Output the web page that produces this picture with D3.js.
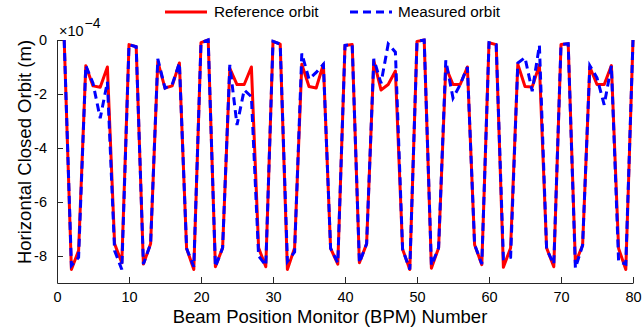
<!DOCTYPE html>
<html>
<head>
<meta charset="utf-8">
<script src="https://cdn.jsdelivr.net/npm/d3@7"></script>
<style>
  body { margin: 0; background: #fff; }
  text { font-family: "Liberation Sans", Arial, Helvetica, sans-serif; fill: #000; }
</style>
</head>
<body>
<svg id="orbit" width="642" height="335"></svg>
<script>
// BPM index and orbit values (units of 1e-4 m)
var bpm = [1, 2, 3, 4, 5, 6, 7, 8, 9, 10, 11, 12, 13, 14, 15, 16, 17, 18, 19, 20,
    21, 22, 23, 24, 25, 26, 27, 28, 29, 30, 31, 32, 33, 34, 35, 36, 37, 38, 39, 40,
    41, 42, 43, 44, 45, 46, 47, 48, 49, 50, 51, 52, 53, 54, 55, 56, 57, 58, 59, 60,
    61, 62, 63, 64, 65, 66, 67, 68, 69, 70, 71, 72, 73, 74, 75, 76, 77, 78, 79, 80];

var referenceOrbit = [0, -8.5, -7.8, -0.95, -1.7, -1.75, -1.0, -7.55, -8.25, -0.17,
    -0.25, -8.3, -7.55, -0.8, -1.78, -1.7, -0.85, -7.72, -8.5, -0.1,
    0, -8.4, -7.7, -1.05, -1.65, -1.65, -1.0, -7.7, -8.4, -0.05,
    -0.15, -8.5, -7.7, -0.9, -1.72, -1.78, -0.9, -7.72, -8.3, -0.2,
    -0.17, -8.25, -7.55, -0.76, -1.85, -1.65, -1.15, -7.75, -8.5, -0.05,
    0, -8.45, -7.7, -1.0, -1.65, -1.65, -1.0, -7.58, -8.32, -0.1,
    -0.17, -8.42, -7.7, -0.9, -1.72, -1.74, -0.92, -7.7, -8.4, -0.17,
    -0.14, -8.26, -7.6, -1.0, -1.65, -1.65, -0.95, -7.72, -8.5, 0];

var measuredOrbit = [0, -8.35, -8.05, -0.95, -1.6, -2.9, -1.55, -7.8, -8.5, -0.17,
    -0.25, -8.3, -7.55, -0.7, -1.78, -1.65, -0.85, -7.72, -8.4, -0.1,
    0, -8.4, -7.7, -0.92, -3.15, -1.85, -2.1, -8.0, -8.35, -0.05,
    -0.15, -8.2, -7.85, -0.5, -1.45, -1.2, -0.9, -7.72, -8.25, -0.2,
    -0.17, -8.25, -7.55, -0.7, -1.6, -0.15, -0.45, -7.75, -8.5, -0.05,
    0, -8.35, -7.7, -0.75, -2.15, -1.65, -1.0, -7.58, -8.3, -0.1,
    -0.17, -8.1, -8.05, -0.85, -0.65, -1.9, -0.2, -7.75, -8.3, -0.17,
    -0.14, -8.45, -7.6, -0.95, -1.4, -2.4, -0.95, -8.2, -8.3, 0];

var xTicks = [0, 10, 20, 30, 40, 50, 60, 70, 80];
var yTicks = [0, -2, -4, -6, -8];

(function drawOrbit() {
    var svg = d3.select("#orbit");

    var x = d3.scaleLinear().domain([0, 80]).range([57, 633]),
        y = d3.scaleLinear().domain([-9, 0]).range([283, 40]);

    var axisColor = "#262626";

    // bottom axis, ticks pointing inward
    var gx = svg.append("g")
        .attr("transform", "translate(0,283)")
        .call(d3.axisBottom(x).tickValues(xTicks).tickSizeInner(-6).tickSizeOuter(0).tickPadding(9));
    gx.select(".domain").attr("stroke", axisColor);
    gx.selectAll(".tick line").attr("stroke", axisColor);
    gx.selectAll(".tick text").style("font-size", "14.5px").attr("fill", "#000")
        .attr("font-family", "Liberation Sans, Arial, sans-serif");

    // left axis
    var gy = svg.append("g")
        .attr("transform", "translate(57,0)")
        .call(d3.axisLeft(y).tickValues(yTicks).tickSizeInner(-6).tickSizeOuter(0).tickPadding(10)
            .tickFormat(function (d) {
                return d === 0 ? "0" : "-" + Math.abs(d);
            }));
    gy.select(".domain").attr("stroke", axisColor);
    gy.selectAll(".tick line").attr("stroke", axisColor);
    gy.selectAll(".tick text").style("font-size", "14.5px").attr("fill", "#000")
        .attr("font-family", "Liberation Sans, Arial, sans-serif");

    // exponent label
    var expo = svg.append("text")
        .attr("x", 59)
        .attr("y", 36)
        .style("font-size", "14.5px");
    expo.append("tspan").text("\u00d710");
    expo.append("tspan")
        .attr("dy", -8)
        .attr("dx", 1)
        .style("font-size", "14px")
        .text("\u22124");

    // axis titles
    svg.append("text")
        .attr("x", 330)
        .attr("y", 323)
        .attr("text-anchor", "middle")
        .style("font-size", "18.5px")
        .text("Beam Position Monitor (BPM) Number");

    svg.append("text")
        .attr("transform", "translate(31,152) rotate(-90)")
        .attr("text-anchor", "middle")
        .style("font-size", "18.5px")
        .text("Horizontal Closed Orbit (m)");

    var line = d3.line()
        .x(function (d) { return x(d[0]); })
        .y(function (d) { return y(d[1]); });

    var refData = bpm.map(function (b, i) { return [b, referenceOrbit[i]]; }),
        measData = bpm.map(function (b, i) { return [b, measuredOrbit[i]]; });

    svg.append("path")
        .datum(refData)
        .attr("fill", "none")
        .attr("stroke", "#ff0000")
        .attr("stroke-width", 3)
        .attr("stroke-linejoin", "round")
        .attr("d", line);

    svg.append("path")
        .datum(measData)
        .attr("fill", "none")
        .attr("stroke", "#0000ff")
        .attr("stroke-width", 3)
        .attr("stroke-dasharray", "8,5")
        .attr("d", line);

    // legend
    var legend = svg.append("g");
    legend.append("line")
        .attr("x1", 165).attr("x2", 207)
        .attr("y1", 12).attr("y2", 12)
        .attr("stroke", "#ff0000")
        .attr("stroke-width", 3);
    legend.append("text")
        .attr("x", 214)
        .attr("y", 17)
        .style("font-size", "15.3px")
        .text("Reference orbit");
    legend.append("line")
        .attr("x1", 350).attr("x2", 392)
        .attr("y1", 12).attr("y2", 12)
        .attr("stroke", "#0000ff")
        .attr("stroke-width", 3)
        .attr("stroke-dasharray", "8,5");
    legend.append("text")
        .attr("x", 398)
        .attr("y", 17)
        .style("font-size", "15.3px")
        .text("Measured orbit");
}());
</script>
</body>
</html>
